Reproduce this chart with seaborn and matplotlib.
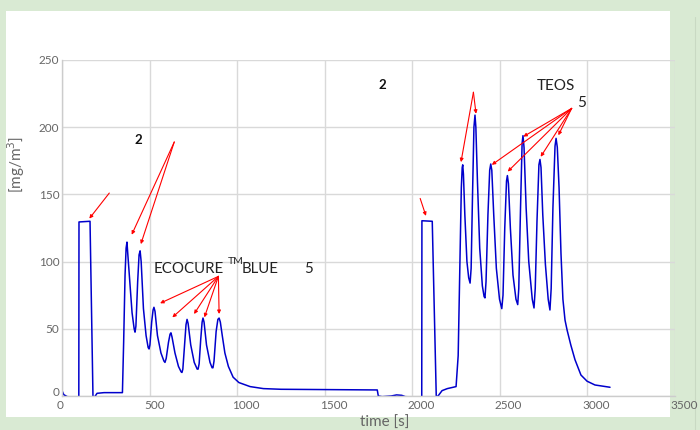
import matplotlib
matplotlib.use("Agg")
import matplotlib.pyplot as plt
import matplotlib.transforms as mtransforms
from matplotlib.patches import Rectangle
from matplotlib.lines import Line2D
import seaborn as sns
import pandas as pd

# =========================================================
# DATA
# =========================================================

time_s = [
    0, 10, 30, 96, 97, 160, 177, 190, 200, 240, 345,
    352, 360, 366, 371, 376, 400, 412, 417, 422, 432, 440, 446, 452,
    465, 480, 492, 497, 502, 512, 520, 525, 531, 545, 565, 582, 588,
    595, 608, 617, 622, 628, 645, 665, 680, 685, 690, 700, 708, 714,
    720, 735, 755, 772, 777, 783, 792, 800, 805, 811, 825, 845, 857,
    862, 868, 880, 890, 897, 904, 915, 930, 950, 977, 1010, 1074,
    1150, 1250, 1500, 1800, 1806, 1828, 1880, 1910, 1940, 1960, 2054,
    2055, 2114, 2137, 2150, 2170, 2200, 2250,
    2262, 2272, 2280, 2285, 2288, 2292, 2300, 2312, 2322, 2330,
    2336, 2344, 2352, 2358, 2363, 2372, 2385, 2400, 2410, 2415,
    2421, 2432, 2442, 2448, 2454, 2465, 2480, 2498, 2511,
    2518, 2528, 2538, 2543, 2549, 2560, 2575, 2592, 2602,
    2608, 2618, 2627, 2632, 2638, 2650, 2665, 2685, 2695,
    2702, 2712, 2723, 2729, 2735, 2745, 2760, 2776, 2786,
    2793, 2803, 2815, 2821, 2828, 2838, 2849, 2860, 2872, 2884,
    2905, 2929, 2963, 2998, 3043, 3129,
]
conc = [
    4, 1, -0.5, -1, 129.5, 130, -1.5, 0, 2, 2.5, 2.5,
    40, 90, 110, 114.5, 105, 62, 50, 47.5, 52, 85, 105, 108, 100,
    65, 45, 36, 35, 38, 55, 64, 66, 63, 45, 32, 26, 25,
    28, 40, 46, 47, 44, 32, 22, 18, 17.5, 20, 38, 53, 57,
    54, 38, 25, 20, 20, 24, 42, 55, 58, 55, 38, 25, 21,
    21, 26, 48, 57, 58, 55, 45, 32, 22, 14, 10, 7,
    5.5, 5, 4.8, 4.5, 0, -0.5, 0, 0.8, 0.5, -0.5, -1,
    130.4, 130, -1, 0.5, 4, 5.5, 7,
    30, 100, 155, 170, 172, 165, 135, 100, 88, 84,
    95, 150, 200, 209, 200, 160, 110, 82, 74, 73,
    85, 135, 168, 172.6, 168, 135, 95, 72, 65,
    75, 125, 160, 164, 158, 125, 90, 72, 68,
    80, 140, 188, 193.7, 185, 140, 100, 72, 65.5,
    80, 130, 172, 176, 170, 135, 98, 72, 64,
    80, 140, 186, 191.7, 185, 155, 106, 72, 56.5, 49,
    38, 27, 15.6, 11, 8.2, 6.5,
]

x_ticks = [0, 500, 1000, 1500, 2000, 2500, 3000, 3500]
y_ticks = [0, 50, 100, 150, 200, 250]

# red arrows: (tail x, tail y) -> (head x, head y)
arrow_tails = [
    (270, 151), (641, 189), (641, 189),
    (893, 89), (893, 89), (893, 89), (893, 89), (893, 89),
    (2045, 147), (2349, 226), (2349, 226),
    (2910, 214), (2910, 214), (2910, 214), (2910, 214), (2910, 214),
]
arrow_heads = [
    (156, 132), (398, 120), (450, 113),
    (560, 69), (630, 58.5), (754, 61), (813, 58.5), (897, 61),
    (2078, 134), (2278, 174), (2364, 210),
    (2634, 193), (2454, 172), (2545, 167), (2733, 178), (2834, 194),
]

df = pd.DataFrame({"time": time_s, "conc": conc})

# =========================================================
# FIGURE
# =========================================================

sns.set_theme(style="whitegrid")
plt.rcParams["font.family"] = ["Lato", "DejaVu Sans"]

green = "#d9ead3"
fig = plt.figure(figsize=(7, 4.3), dpi=100, facecolor=green)
fig.patches.append(Rectangle((6 / 700, 13 / 430), 664 / 700, 406 / 430,
                             transform=fig.transFigure, facecolor="white",
                             edgecolor="none", zorder=-5))
fig.lines.append(Line2D([695 / 700, 695 / 700], [0, 0.96], transform=fig.transFigure,
                        color="#c9d9c3", lw=0.8, zorder=-4))

ax = fig.add_axes([62 / 700, 34 / 430, 613 / 700, 336 / 430])
ax.set_facecolor("none")
ax.set_zorder(1)

sns.lineplot(data=df, x="time", y="conc", ax=ax, color="#0000cc",
             linewidth=1.1, sort=False, estimator=None)

ax.set_xlim(0, 3500)
ax.set_ylim(0, 250)
ax.set_xticks(x_ticks)
ax.set_yticks(y_ticks)
ax.grid(True, color="#d9d9d9", linewidth=1.0)
for side in ["top", "right"]:
    ax.spines[side].set_visible(False)
for side in ["left", "bottom"]:
    ax.spines[side].set_color("#cccccc")
    ax.spines[side].set_linewidth(1.0)

ax.tick_params(axis="both", length=0, labelsize=8.5, labelcolor="#666666")
ax.tick_params(axis="x", pad=3)
ax.tick_params(axis="y", pad=2)

shift = mtransforms.ScaledTranslation(-0.05, 0, fig.dpi_scale_trans)
for lbl in ax.get_xticklabels():
    lbl.set_horizontalalignment("left")
    lbl.set_transform(lbl.get_transform() + shift)
up = mtransforms.ScaledTranslation(0, 0.05, fig.dpi_scale_trans)
ylbls = ax.get_yticklabels()
ylbls[0].set_transform(ylbls[0].get_transform() + up)

ax.set_xlabel("time [s]", fontsize=11, color="#666666")
ax.set_ylabel("[mg/m$^3$]", fontsize=11, color="#666666")
ax.xaxis.set_label_coords(0.527, -0.058)
ax.yaxis.set_label_coords(-0.057, 0.69)

# ---- annotations ----
for (tx, ty), (hx, hy) in zip(arrow_tails, arrow_heads):
    ax.annotate("", xy=(hx, hy), xytext=(tx, ty),
                arrowprops=dict(arrowstyle="-|>", color="red", lw=0.8,
                                mutation_scale=5, shrinkA=0, shrinkB=0))

ax.text(434, 190.5, "2", fontsize=9.5, fontweight="bold", color="#111111",
        ha="center", va="center")
ax.text(1829, 231.4, "2", fontsize=9.5, fontweight="bold", color="#111111",
        ha="center", va="center")
ax.text(2821, 230.6, "TEOS", fontsize=11, color="#222222", ha="center", va="center")
ax.text(2969, 218, "5", fontsize=11, color="#222222", ha="center", va="center")

ax.text(525, 94.5, "ECOCURE", fontsize=10.8, color="#222222", ha="left", va="center")
ax.text(948, 100, "TM", fontsize=7.5, color="#222222", ha="left", va="center")
ax.text(1028, 94.5, "BLUE", fontsize=10.8, color="#222222", ha="left", va="center")
ax.text(1405, 94.5, "5", fontsize=10.8, color="#222222", ha="center", va="center")

plt.savefig("out.png", dpi=100, facecolor=green)
plt.close()
